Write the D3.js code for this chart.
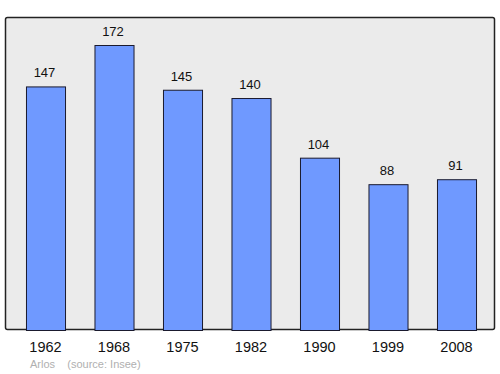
<!DOCTYPE html>
<html>
<head>
<meta charset="utf-8">
<script src="https://cdn.jsdelivr.net/npm/d3@7"></script>
<style>
  body { margin: 0; background: #fff; }
  text { font-family: "Liberation Sans", Arial, sans-serif; }
</style>
</head>
<body>
<script>
const years = ['1962', '1968', '1975', '1982', '1990', '1999', '2008']
const population = [147, 172, 145, 140, 104, 88, 91]

const width = 500
const height = 374

const svg = d3.select('body').append('svg')
  .attr('width', width)
  .attr('height', height)

// plot frame
svg.append('rect')
  .attr('x', 5.5)
  .attr('y', 17.5)
  .attr('width', 489)
  .attr('height', 312)
  .attr('rx', 2)
  .attr('fill', '#ebebeb')
  .attr('stroke', '#222')
  .attr('stroke-width', 1.5)

const x = d3.scaleBand()
  .domain(years)
  .range([11.25, 490.75])
  .paddingInner(0.43)
  .paddingOuter(0.215)

const y = d3.scaleLinear()
  .domain([0, 172])
  .range([330, 45])

const data = years.map((yr, i) => ({ year: yr, value: population[i] }))

svg.selectAll('rect.bar')
  .data(data)
  .enter().append('rect')
  .attr('class', 'bar')
  .attr('x', d => x(d.year) + 0.5)
  .attr('y', d => y(d.value) + 0.5)
  .attr('width', x.bandwidth())
  .attr('height', d => y(0) - y(d.value))
  .attr('fill', '#6f99ff')
  .attr('stroke', '#1a1a2e')
  .attr('stroke-width', 1)

svg.selectAll('text.val')
  .data(data)
  .enter().append('text')
  .attr('class', 'val')
  .attr('x', d => x(d.year) + x.bandwidth() / 2 - 1)
  .attr('y', d => y(d.value) - 9)
  .attr('text-anchor', 'middle')
  .attr('font-size', 13)
  .attr('fill', '#111')
  .text(d => d.value)

svg.selectAll('text.year')
  .data(years)
  .enter().append('text')
  .attr('class', 'year')
  .attr('x', d => x(d) + x.bandwidth() / 2)
  .attr('y', 352)
  .attr('text-anchor', 'middle')
  .attr('font-size', 14.5)
  .attr('fill', '#111')
  .text(d => d)

svg.append('text')
  .attr('x', 30)
  .attr('y', 367.5)
  .attr('font-size', 11)
  .attr('fill', '#b0b0b0')
  .attr('xml:space', 'preserve')
  .text('Arlos    (source: Insee)')
</script>
</body>
</html>
